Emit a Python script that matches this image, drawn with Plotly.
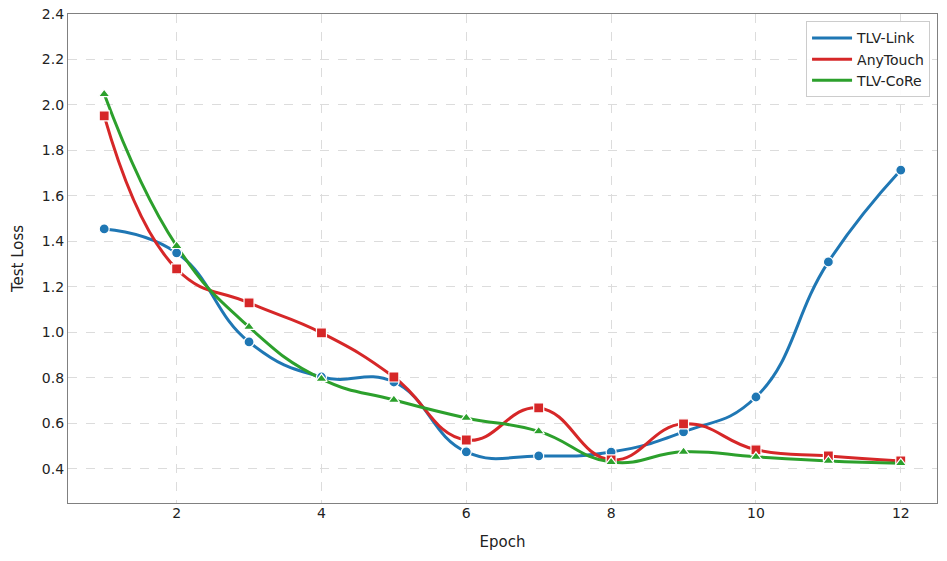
import plotly.graph_objects as go

BLUE = "#1f77b4"
RED = "#d62728"
GREEN = "#2ca02c"
GRID = "#dcdcdc"
FRAME = "#808080"
FONT = "DejaVu Sans"

epochs = [1, 2, 3, 4, 5, 6, 7, 8, 9, 10, 11, 12]
tlv_link = [1.455, 1.35, 0.958, 0.804, 0.782, 0.475, 0.457, 0.474, 0.563, 0.716, 1.31, 1.714]
anytouch = [1.952, 1.279, 1.130, 0.998, 0.804, 0.527, 0.668, 0.440, 0.598, 0.484, 0.457, 0.435]
tlv_core = [2.048, 1.380, 1.024, 0.796, 0.703, 0.624, 0.565, 0.430, 0.475, 0.453, 0.435, 0.425]

series = [
    ("TLV-Link", tlv_link, BLUE, "circle"),
    ("AnyTouch", anytouch, RED, "square"),
    ("TLV-CoRe", tlv_core, GREEN, "triangle-up"),
]

fig = go.Figure()
for name, vals, col, sym in series:
    fig.add_trace(go.Scatter(x=epochs, y=vals, name=name, mode='lines',
                             line=dict(color=col, width=3, shape='spline', smoothing=1.3)))
for name, vals, col, sym in series:
    fig.add_trace(go.Scatter(x=epochs, y=vals, name=name, mode='markers', showlegend=False,
                             marker=dict(symbol=sym, color=col, size=10,
                                         line=dict(color='white', width=1.2))))

axis_common = dict(showgrid=True, gridcolor=GRID, griddash='dash', gridwidth=1,
                   showline=True, linecolor=FRAME, linewidth=1.2, mirror=True,
                   ticks='', zeroline=False, automargin=False,
                   tickfont=dict(size=14, color='#222222'))

fig.update_layout(
    width=947, height=561,
    margin=dict(l=68, r=10, t=14, b=58),
    paper_bgcolor='white', plot_bgcolor='white',
    font=dict(family=FONT, color='#222222', size=13),
    xaxis=dict(title=dict(text='Epoch', font=dict(size=15), standoff=16),
               range=[0.5, 12.5], tickvals=[2, 4, 6, 8, 10, 12],
               ticklabelstandoff=-3, **axis_common),
    yaxis=dict(title=dict(text='Test Loss', font=dict(size=15), standoff=14),
               range=[0.25, 2.4], tickvals=[0.4, 0.6, 0.8, 1.0, 1.2, 1.4, 1.6, 1.8, 2.0, 2.2, 2.4],
               tickformat='.1f', ticklabelstandoff=0, **axis_common),
    legend=dict(x=0.992, y=0.985, xanchor='right', yanchor='top',
                bgcolor='rgba(255,255,255,0.9)', bordercolor='#cccccc', borderwidth=1,
                font=dict(size=14), tracegroupgap=0, itemwidth=40),
)

# drop the default 8px body margin so the figure sits at the page corner
fig.write_html("out.html", config={'displayModeBar': False},
               post_script="document.body.style.margin='0';")
